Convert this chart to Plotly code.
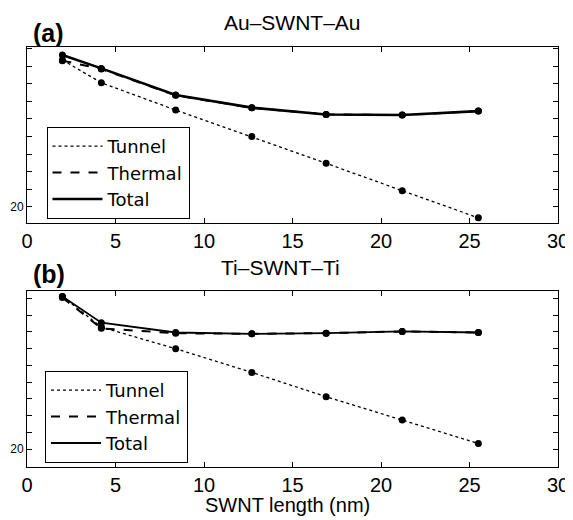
import plotly.graph_objects as go

# SWNT length (nm)
lengths = [2.0, 4.2, 8.4, 12.7, 16.9, 21.2, 25.5]

# Panel (a): Au-SWNT-Au
a_tunnel = [2.3e-12, 1.15e-13, 3.2e-15, 9.8e-17, 2.95e-18, 8.1e-20, 2.3e-21]
a_thermal = [2.1e-12, 7.0e-13, 2.2e-14, 4.3e-15, 1.8e-15, 1.66e-15, 2.8e-15]
a_total = [4.4e-12, 7.6e-13, 2.3e-14, 4.4e-15, 1.8e-15, 1.66e-15, 2.8e-15]

# Panel (b): Ti-SWNT-Ti
b_tunnel = [1.26e-11, 1.9e-13, 9.8e-15, 3.8e-16, 1.35e-17, 5.5e-19, 2.2e-20]
b_thermal = [1.1e-11, 1.6e-13, 8.2e-14, 7.6e-14, 8.3e-14, 1.05e-13, 9.1e-14]
b_total = [1.26e-11, 3.5e-13, 9.1e-14, 7.6e-14, 8.3e-14, 1.05e-13, 9.1e-14]

x_ticks = [0, 5, 10, 15, 20, 25, 30]
y_tickvals = [1e-20, 1e-19, 1e-18, 1e-17, 1e-16, 1e-15, 1e-14, 1e-13, 1e-12, 1e-11]
y_ticktext = ["20", "", "", "", "", "", "", "", "", ""]

FONT = "Liberation Sans, Arial, Helvetica, sans-serif"
LFONT = "DejaVu Sans, Liberation Sans, sans-serif"

# The page body has an 8px margin, so the figure is sized to fill the window.
OFF = 8
W, H = 573 - OFF, 520 - OFF


def px(x):
    return (x - OFF) / W


def py(y):
    return 1 - (y - OFF) / H


fig = go.Figure()


def add_panel(xa, ya, legend, tunnel, thermal, total, total_w):
    specs = [
        ("Tunnel", tunnel, "dot", 1.3),
        ("Thermal", thermal, "dash", 2.0),
        ("Total", total, "solid", total_w),
    ]
    for name, vals, dash, w in specs:
        fig.add_trace(go.Scatter(
            x=lengths, y=vals, mode="lines", name=name,
            line=dict(color="black", width=w, dash=dash),
            xaxis=xa, yaxis=ya, legend=legend, showlegend=True))
    for name, vals, dash, w in specs:
        fig.add_trace(go.Scatter(
            x=lengths, y=vals, mode="markers", name=name,
            marker=dict(color="black", size=7),
            xaxis=xa, yaxis=ya, showlegend=False, hoverinfo="skip"))


add_panel("x", "y", "legend", a_tunnel, a_thermal, a_total, 2.6)
add_panel("x2", "y2", "legend2", b_tunnel, b_thermal, b_total, 1.8)

xdom = [px(27), px(558)]
axis_common = dict(showgrid=False, zeroline=False, showline=True, linecolor="black",
                   linewidth=1, mirror="ticks", ticks="inside", tickcolor="black",
                   ticklen=5, tickwidth=1, automargin=False)

legend_common = dict(xanchor="left", yanchor="top", xref="paper", yref="paper",
                     bgcolor="white", bordercolor="black", borderwidth=1,
                     font=dict(size=18, family=LFONT), tracegroupgap=0, itemwidth=50)


def label(text, x, y, size):
    return dict(text=text, x=px(x), y=py(y), xref="paper", yref="paper",
                xanchor="center", yanchor="middle", showarrow=False,
                font=dict(size=size))


fig.update_layout(
    width=W, height=H,
    margin=dict(l=0, r=0, t=0, b=0, pad=0),
    paper_bgcolor="white", plot_bgcolor="white",
    font=dict(family=FONT, color="black"),
    xaxis=dict(domain=xdom, range=[0, 30], tickvals=x_ticks, anchor="y",
               tickfont=dict(size=20), **axis_common),
    yaxis=dict(domain=[py(223.3), py(47)], type="log",
               range=[-20.95, -10.90], tickvals=y_tickvals, ticktext=y_ticktext,
               tickfont=dict(size=12), anchor="x", **axis_common),
    xaxis2=dict(domain=xdom, range=[0, 30], tickvals=x_ticks, anchor="y2",
                tickfont=dict(size=20), **axis_common),
    yaxis2=dict(domain=[py(466.5), py(290.7)], type="log",
                range=[-21.03, -10.55], tickvals=y_tickvals, ticktext=y_ticktext,
                tickfont=dict(size=12), anchor="x2", **axis_common),
    legend=dict(x=px(46.5), y=py(127), **legend_common),
    legend2=dict(x=px(45), y=py(371), **legend_common),
    annotations=[
        label("<b>(a)</b>", 48, 33, 25),
        label("Au–SWNT–Au", 292, 22, 21),
        label("<b>(b)</b>", 49, 274, 25),
        label("Ti–SWNT–Ti", 280, 267, 21),
        label("SWNT length (nm)", 287, 505, 20),
    ],
)

fig.write_html("out.html")
